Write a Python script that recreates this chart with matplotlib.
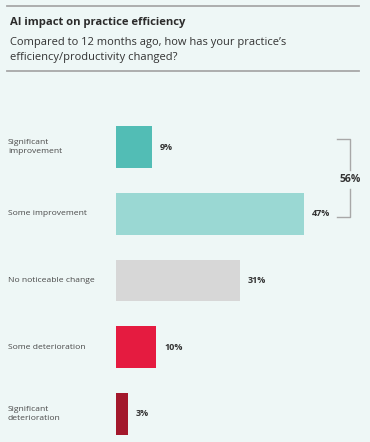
import numpy as np
import matplotlib.pyplot as plt
from matplotlib.lines import Line2D
from matplotlib.transforms import blended_transform_factory

plt.rcParams['font.family'] = ['Open Sans', 'DejaVu Sans']

# Data
categories = ["Significant\nimprovement", "Some improvement", "No noticeable change",
              "Some deterioration", "Significant\ndeterioration"]
values = [9, 47, 31, 10, 3]
colors = ["#52bdb5", "#9ad8d3", "#d7d7d7", "#e51b40", "#a3182c"]

title = "AI impact on practice efficiency"
subtitle = "Compared to 12 months ago, how has your practice\u2019s\nefficiency/productivity changed?"

bg = "#eef7f6"
W, H = 370, 442

fig = plt.figure(figsize=(W / 100, H / 100), dpi=100, facecolor=bg)

# header rules and text
for yp in (6, 71):
    fig.add_artist(Line2D([7 / W, 359 / W], [1 - yp / H, 1 - yp / H],
                          color="#a8a8a8", lw=1.3))
fig.text(10 / W, 1 - 22 / H, title, fontsize=8.1, fontweight="bold",
         color="#2b2b2b", va="center")
fig.text(10 / W, 1 - 50 / H, subtitle, fontsize=8, color="#333333",
         va="center", linespacing=1.45)

# bars
px_per_unit = 4.0
ax_left, ax_top, ax_bot = 116, 114, 440
ax = fig.add_axes([ax_left / W, 1 - ax_bot / H, (W - ax_left) / W, (ax_bot - ax_top) / H])
ax.set_facecolor(bg)
ax.set_xlim(0, (W - ax_left) / px_per_unit)
y = np.arange(len(values))
ax.set_ylim(-0.5 + (ax_bot - ax_top) / 66.6, -0.5)
ax.barh(y, values, height=0.63, color=colors)
ax.axis("off")

for yi, v in zip(y, values):
    ax.text(v + 2, yi, f"{v}%", fontsize=6.5, fontweight="bold",
            color="#333333", va="center")

trans = blended_transform_factory(fig.transFigure, ax.transData)
for yi, lab in zip(y, categories):
    ax.text(8 / W, yi, lab, transform=trans, fontsize=6.1, color="#4a4a4a",
            va="center", linespacing=1.35)

# bracket for combined improvement
bx = max(values) + 11.5
tick = 3.2
y0, y1 = -0.13, 1.04
ax.plot([bx - tick, bx, bx], [y0, y0, 0.34], color="#a8a8a8", lw=1, clip_on=False)
ax.plot([bx - tick, bx, bx], [y1, y1, 0.62], color="#a8a8a8", lw=1, clip_on=False)
ax.text(bx, 0.48, f"{values[0] + values[1]}%", fontsize=7.5, fontweight="bold",
        color="#333333", ha="center", va="center")

fig.savefig("out.png", dpi=100, facecolor=bg)
